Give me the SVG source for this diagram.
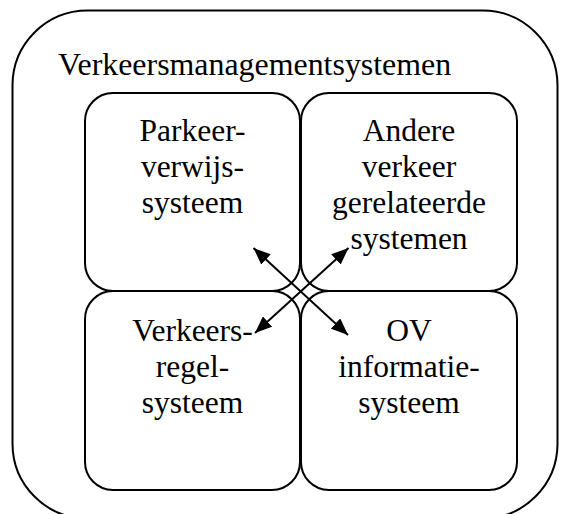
<svg xmlns="http://www.w3.org/2000/svg" width="569" height="514" viewBox="0 0 569 514">
<defs>
<style>
.box{fill:none;stroke:#000;stroke-width:2}
.t{font-family:"Liberation Serif","Times New Roman",serif;font-size:31.5px;fill:#000}
.c{text-anchor:middle}
.conn{stroke:#000;stroke-width:2;fill:none}
</style>
<marker id="ah" markerUnits="userSpaceOnUse" markerWidth="17" markerHeight="14" viewBox="0 0 17 14" refX="17" refY="7" orient="auto-start-reverse">
<path d="M0,0 L17,7 L0,14 z" fill="#000"/>
</marker>
</defs>
<rect width="569" height="514" fill="#fff"/>
<g id="outer">
<rect class="box" x="12.5" y="10.5" width="545" height="508" rx="75" ry="75"/>
<text class="t" x="58" y="75" style="font-size:31.9px">Verkeersmanagementsystemen</text>
</g>
<g id="parkeer">
<rect class="box" x="85" y="93" width="215" height="198" rx="28" ry="28"/>
<text class="t c" x="192.5" y="140.7">Parkeer-</text>
<text class="t c" x="192.5" y="176.9">verwijs-</text>
<text class="t c" x="192.5" y="213.1">systeem</text>
</g>
<g id="andere">
<rect class="box" x="301" y="93" width="216" height="198" rx="28" ry="28"/>
<text class="t c" x="409" y="140.7">Andere</text>
<text class="t c" x="409" y="176.9">verkeer</text>
<text class="t c" x="409" y="213.1">gerelateerde</text>
<text class="t c" x="409" y="249.3">systemen</text>
</g>
<g id="verkeersregel">
<rect class="box" x="85" y="291" width="215" height="199" rx="28" ry="28"/>
<text class="t c" x="192.5" y="340.7">Verkeers-</text>
<text class="t c" x="192.5" y="376.9">regel-</text>
<text class="t c" x="192.5" y="413.1">systeem</text>
</g>
<g id="ov">
<rect class="box" x="301" y="291" width="216" height="199" rx="28" ry="28"/>
<text class="t c" x="409" y="340.7">OV</text>
<text class="t c" x="409" y="376.9">informatie-</text>
<text class="t c" x="409" y="413.1">systeem</text>
</g>
<g id="connectors">
<line class="conn" x1="253.5" y1="248" x2="348" y2="335" marker-start="url(#ah)" marker-end="url(#ah)"/>
<line class="conn" x1="348.5" y1="248" x2="255" y2="333" marker-start="url(#ah)" marker-end="url(#ah)"/>
</g>
</svg>
